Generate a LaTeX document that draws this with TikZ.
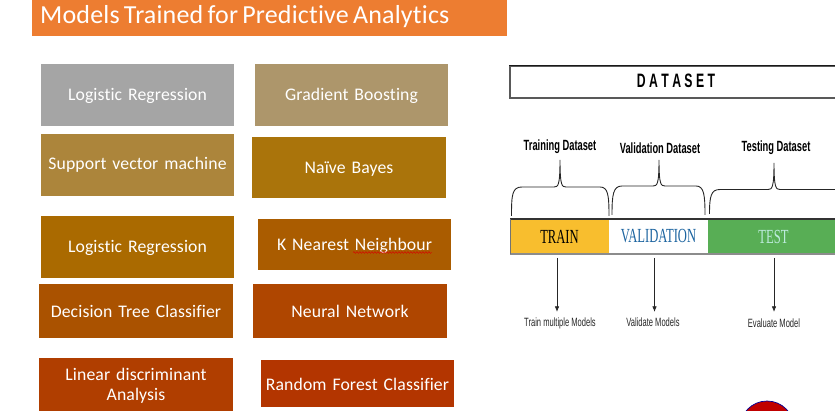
\documentclass[tikz,border=0pt]{standalone}
\usepackage{fontspec}
\setmainfont[Ligatures=NoCommon,LetterSpace=0.7,WordSpace=0.7]{Carlito}
\newfontfamily\narrowsans[FakeStretch=0.63]{Liberation Sans}
\newfontfamily\narrowserif[FakeStretch=0.63]{Liberation Serif}
\usetikzlibrary{arrows.meta,positioning,calc,decorations.pathmorphing}

\definecolor{titleorange}{HTML}{ED7D31}
\definecolor{modelA}{RGB}{165,165,165}
\definecolor{modelB}{RGB}{173,150,107}
\definecolor{modelC}{RGB}{172,133,59}
\definecolor{modelD}{RGB}{170,116,11}
\definecolor{modelE}{RGB}{170,106,0}
\definecolor{modelF}{RGB}{170,92,0}
\definecolor{modelG}{RGB}{170,82,0}
\definecolor{modelH}{RGB}{175,70,0}
\definecolor{modelI}{RGB}{176,62,0}
\definecolor{modelJ}{RGB}{179,53,0}
\definecolor{discred}{RGB}{192,0,0}
\definecolor{trainyellow}{HTML}{F8BE2E}
\definecolor{testgreen}{HTML}{58AE55}
\definecolor{validblue}{HTML}{1C64A0}
\definecolor{testtext}{HTML}{BDEBDD}

\begin{document}
\begin{tikzpicture}[
    x=1pt,
    y=-1pt,
    font=\fontsize{17.7}{20}\selectfont,
    modelbox/.style={text=white, align=center, inner sep=0pt, text width=193pt, minimum height=62pt, execute at begin node={\rule{0pt}{#1}}},
    modelbox/.default=15pt,
    barbox/.style={inner sep=0pt, outer sep=0pt, minimum height=35pt, font=\narrowserif\fontsize{20}{22}\selectfont},
    setlabel/.style={inner sep=0pt, font=\narrowsans\bfseries\fontsize{14.8}{16}\selectfont},
    uselabel/.style={inner sep=0pt, text=black!85, font=\narrowsans\fontsize{12}{14}\selectfont},
    bracket/.style={line width=0.9pt, draw=black!85},
    arrow/.style={-{Latex[length=2mm,width=1.6mm]}, line width=0.8pt, draw=black!85}
]
    \useasboundingbox (0,0) rectangle (835,411);
    \clip (0,0) rectangle (835,411);

    % Titre
    \node[fill=titleorange, minimum width=475pt, minimum height=36pt, inner sep=0pt] (title) at (269.5,18) {};
    \node[anchor=west, text=white, inner sep=0pt, font=\fontsize{26}{30}\selectfont] (titletext) at (40,16.5) {Models Trained for Predictive Analytics};

    % Colonne de gauche
    \node[modelbox, fill=modelA] (logreg) at (137.5,95) {Logistic Regression};
    \node[modelbox, fill=modelB] (gradboost) at (351.5,95) {Gradient Boosting};
    \node[modelbox=11pt, fill=modelC] (svm) at (137.5,165) {Support vector machine};
    \node[modelbox=14pt, fill=modelD, text width=194pt, minimum height=61pt] (bayes) at (349,167.5) {Naïve Bayes};
    \node[modelbox, fill=modelE] (logreg2) at (137.5,247) {Logistic Regression};
    \node[modelbox, fill=modelF, minimum height=51pt] (knn) at (354.5,244.5) {K Nearest Neighbour};
    \node[modelbox=11pt, fill=modelG, text width=194pt, minimum height=54pt] (tree) at (136,311) {Decision Tree Classifier};
    \node[modelbox=11pt, fill=modelH, text width=194pt, minimum height=54pt] (neural) at (350,311) {Neural Network};
    \node[modelbox, fill=modelI, text width=194pt, minimum height=53pt] (lda) at (136,384.5) {Linear discriminant\\Analysis};
    \node[modelbox=14pt, fill=modelJ, minimum height=47pt] (forest) at (357.5,383.5) {Random Forest Classifier};

    % Trait du correcteur sous Neighbour
    \draw[red!85!black, line width=0.45pt, decorate, decoration={snake, amplitude=0.9pt, segment length=3pt}] (353,252.5) -- (432,252.5);

    % Bandeau du jeu de donnees
    \node[draw=black!65, line width=1.2pt, fill=white, minimum width=345pt, minimum height=32pt, inner sep=0pt] (dataset) at (682.5,82) {};
    \draw[line width=1.1pt, black!90] (dataset.north west) -- (dataset.north east);
    \node[inner sep=0pt, font=\narrowsans\bfseries\fontsize{19.4}{22}\selectfont] (datasettext) at (676,81) {D\hspace{3.4pt}A\hspace{3.4pt}T\hspace{3.4pt}A\hspace{3.4pt}S\hspace{3.4pt}E\hspace{3.4pt}T};

    \node[setlabel] (trainset) at (560,147) {Training Dataset};
    \node[setlabel] (validset) at (660,148) {Validation Dataset};
    \node[setlabel] (testset) at (776,148) {Testing Dataset};

    % Accolades
    \draw[bracket] (511.5,216) .. controls (511.5,195) and (512,187) .. (522,187) -- (554,187) .. controls (558,187) and (560,186) .. (560,160) .. controls (560,186) and (562,187) .. (566,187) -- (600,187) .. controls (608,187) and (609,195) .. (609,216);
    \draw[bracket] (612,215) .. controls (612,195) and (613,186) .. (622,186) -- (653,186) .. controls (657,186) and (659,185) .. (659,160) .. controls (659,185) and (661,186) .. (665,186) -- (696,186) .. controls (704,186) and (705,195) .. (705,215);
    \draw[bracket] (709.5,214) .. controls (709.5,196) and (711,189.5) .. (720,189.5) -- (768,189.5) .. controls (772,189.5) and (774,188) .. (774,163) .. controls (774,188) and (776,189.5) .. (780,189.5) -- (840,189.5);

    % Barre train / validation / test
    \node[barbox, fill=trainyellow, minimum width=99pt, text=black] (train) at (559.5,236.5) {TRAIN};
    \node[barbox, fill=white, minimum width=99pt, right=0pt of train, text=validblue] (valid) {VALIDATION};
    \node[barbox, fill=testgreen, minimum width=130pt, right=0pt of valid] (test) {};
    \node[barbox, text=testtext] (testtext) at (773.5,236.5) {TEST};
    \draw[line width=1.1pt, black!80] (train.north west) -- (test.north east);
    \draw[line width=1.6pt, black!45] (train.south west) -- (test.south east);
    \draw[line width=0.6pt, black!55] (train.north west) -- (train.south west);

    % Fleches et usages
    \node[uselabel] (trainuse) at (560,323.5) {Train multiple Models};
    \node[uselabel] (validuse) at (653,322.5) {Validate Models};
    \node[uselabel] (testuse) at (774,323.5) {Evaluate Model};

    \coordinate (trainfrom) at (557,258);
    \coordinate (validfrom) at (654.5,258);
    \coordinate (testfrom) at (774,258);
    \draw[arrow] (trainfrom) -- ++(0,54);
    \draw[arrow] (validfrom) -- ++(0,54);
    \draw[arrow] (testfrom) -- ++(0,54);

    % Disque coupe en bas
    \node[circle, draw=blue!60!black, line width=0.7pt, fill=discred, minimum size=54pt, inner sep=0pt] (disc) at (767,428) {};

\end{tikzpicture}
\end{document}
